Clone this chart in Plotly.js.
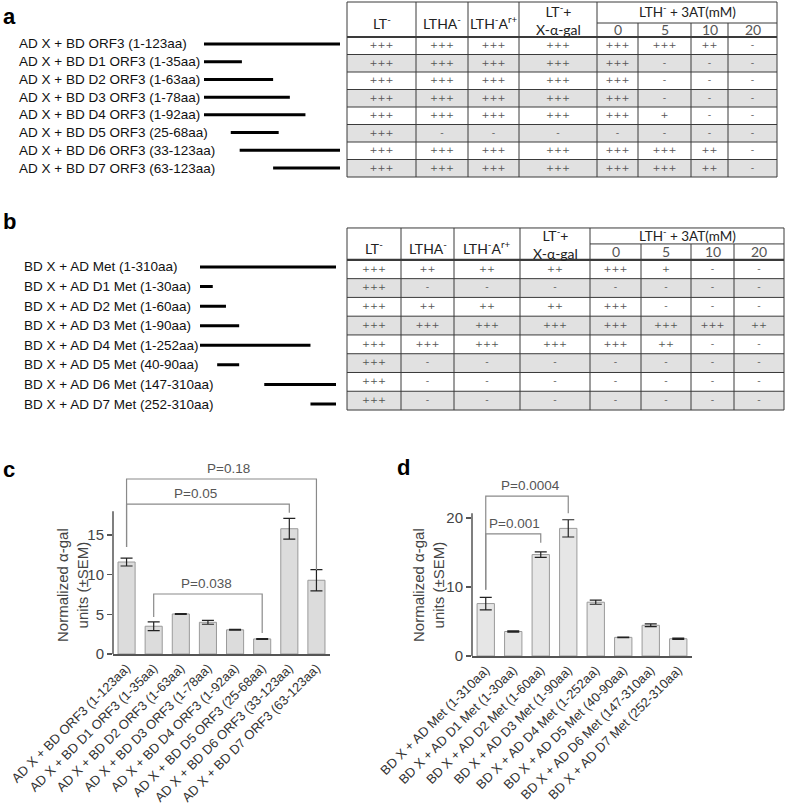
<!DOCTYPE html>
<html>
<head>
<meta charset="utf-8">
<script src="https://cdn.plot.ly/plotly-3.0.1.min.js"></script>
<style>
  html, body { margin: 0; padding: 0; background: #fff; }
  #chart { width: 787px; height: 805px; }
</style>
</head>
<body>
<div id="chart"></div>
<script>
const W = 787;
const H = 805;
const FONT = "Liberation Sans, Arial, sans-serif";
const TFONT = "Lato, Open Sans, sans-serif";

// constructs (a)
const orf3Labels = [
  "AD X + BD ORF3 (1-123aa)",
  "AD X + BD D1 ORF3 (1-35aa)",
  "AD X + BD D2 ORF3 (1-63aa)",
  "AD X + BD D3 ORF3 (1-78aa)",
  "AD X + BD D4 ORF3 (1-92aa)",
  "AD X + BD D5 ORF3 (25-68aa)",
  "AD X + BD D6 ORF3 (33-123aa)",
  "AD X + BD D7 ORF3 (63-123aa)",
];
const orf3Start = [1, 1, 1, 1, 1, 25, 33, 63];
const orf3End = [123, 35, 63, 78, 92, 68, 123, 123];

// constructs (b)
const metLabels = [
  "BD X + AD Met (1-310aa)",
  "BD X + AD D1 Met (1-30aa)",
  "BD X + AD D2 Met (1-60aa)",
  "BD X + AD D3 Met (1-90aa)",
  "BD X + AD D4 Met (1-252aa)",
  "BD X + AD D5 Met (40-90aa)",
  "BD X + AD D6 Met (147-310aa)",
  "BD X + AD D7 Met (252-310aa)",
];
const metStart = [1, 1, 1, 1, 1, 40, 147, 252];
const metEnd = [310, 30, 60, 90, 252, 90, 310, 310];

// growth table
const mediaHeads = ["LT<sup>-</sup>", "LTHA<sup>-</sup>", "LTH<sup>-</sup>A<sup>r+</sup>", "LT<sup>-</sup>+<br>X-α-gal"];
const atHead = "LTH<sup>-</sup> + 3AT(mM)";
const atConc = ["0", "5", "10", "20"];

const orf3Scores = [
  ["+++", "+++", "+++", "+++", "+++", "+++", "++", "-"],
  ["+++", "+++", "+++", "+++", "+++", "-", "-", "-"],
  ["+++", "+++", "+++", "+++", "+++", "-", "-", "-"],
  ["+++", "+++", "+++", "+++", "+++", "-", "-", "-"],
  ["+++", "+++", "+++", "+++", "+++", "+", "-", "-"],
  ["+++", "-", "-", "-", "-", "-", "-", "-"],
  ["+++", "+++", "+++", "+++", "+++", "+++", "++", "-"],
  ["+++", "+++", "+++", "+++", "+++", "+++", "++", "-"],
];
const metScores = [
  ["+++", "++", "++", "++", "+++", "+", "-", "-"],
  ["+++", "-", "-", "-", "-", "-", "-", "-"],
  ["+++", "++", "++", "++", "+++", "-", "-", "-"],
  ["+++", "+++", "+++", "+++", "+++", "+++", "+++", "++"],
  ["+++", "+++", "+++", "+++", "+++", "++", "-", "-"],
  ["+++", "-", "-", "-", "-", "-", "-", "-"],
  ["+++", "-", "-", "-", "-", "-", "-", "-"],
  ["+++", "-", "-", "-", "-", "-", "-", "-"],
];

// alpha-gal assay
const orf3Activity = [11.6, 3.5, 5.05, 4.0, 3.05, 1.9, 15.8, 9.3];
const orf3Sem = [0.5, 0.55, 0.05, 0.25, 0.05, 0.05, 1.3, 1.35];
const metActivity = [7.6, 3.55, 14.7, 18.5, 7.8, 2.7, 4.45, 2.5];
const metSem = [0.9, 0.1, 0.4, 1.25, 0.3, 0.05, 0.2, 0.1];

const orf3Tests = [
  { from: 0, to: 7, p: "P=0.18", top: 22.07, legFrom: 13.5, legTo: 10.6, textAt: 3.75 },
  { from: 0, to: 6, p: "P=0.05", top: 18.9, legFrom: 13.5, legTo: 17.8, textAt: 2.53 },
  { from: 1, to: 5, p: "P=0.038", top: 7.57, legFrom: 4.67, legTo: 2.65, textAt: 2.93 },
];
const metTests = [
  { from: 0, to: 3, p: "P=0.0004", top: 23.19, legFrom: 9.6, legTo: 20.7, textAt: 1.64 },
  { from: 0, to: 2, p: "P=0.001", top: 17.7, legFrom: 9.6, legTo: 16.4, textAt: 1.05 },
];

// table column edges (px from table left)
const edgesA = [0, 69, 121, 172, 250, 291, 344, 381, 430];
const edgesB = [0, 54, 107, 173, 243, 294, 344, 387, 437];

const px = (x) => x / W;
const py = (y) => 1 - y / H;

function segmentTrace(starts, ends, xa, ya) {
  const x = [];
  const y = [];
  starts.forEach((s, i) => {
    x.push(s, ends[i], null);
    y.push(i, i, null);
  });
  return { type: "scatter", mode: "lines", x, y, xaxis: xa, yaxis: ya, line: { color: "#000", width: 3 }, hoverinfo: "skip" };
}

function tableTraces(scores, edges, xa, ya) {
  const width = edges[edges.length - 1];
  const rows = scores.map((_, i) => i + 0.5);
  const shade = {
    type: "bar",
    orientation: "h",
    x: rows.map(() => width),
    base: 0,
    y: rows,
    width: 1,
    marker: { color: rows.map((_, i) => (i % 2 ? "#e1e1e1" : "#ffffff")), line: { width: 0 } },
    xaxis: xa,
    yaxis: ya,
    hoverinfo: "skip",
  };
  const tx = [];
  const ty = [];
  const tt = [];
  scores.forEach((row, i) =>
    row.forEach((v, j) => {
      tx.push((edges[j] + edges[j + 1]) / 2);
      ty.push(i + 0.5);
      tt.push(v);
    }),
  );
  const text = {
    type: "scatter",
    mode: "text",
    x: tx,
    y: ty,
    text: tt,
    textfont: { family: "DejaVu Sans, sans-serif", size: 9.5, color: "#555" },
    xaxis: xa,
    yaxis: ya,
    cliponaxis: false,
    hoverinfo: "skip",
  };
  return [shade, text];
}

function tableGrid(edges, nRows, headTop, subLine, xa, ya) {
  const w = edges[edges.length - 1];
  const line = (x0, y0, x1, y1, width) => ({
    type: "line", xref: xa, yref: ya, x0, y0, x1, y1,
    line: { color: "#3a3a3a", width: width || 1 },
  });
  const shapes = [];
  edges.forEach((e, j) => {
    const top = j > 4 && j < edges.length - 1 ? subLine : headTop;
    shapes.push(line(e, top, e, nRows));
  });
  shapes.push(line(0, headTop, w, headTop));
  shapes.push(line(edges[4], subLine, w, subLine));
  for (let i = 1; i <= nRows; i++) shapes.push(line(0, i, w, i));
  shapes.push(line(0, 0, w, 0, 2.2));
  return shapes;
}

function tableHeads(edges, headTop, subLine, xa, ya) {
  const anns = [];
  const base = {
    xref: xa, yref: ya, showarrow: false, xanchor: "center", yanchor: "middle",
    font: { family: TFONT, size: 14, color: "#222" },
  };
  mediaHeads.forEach((t, j) => {
    anns.push({ ...base, text: t, x: (edges[j] + edges[j + 1]) / 2, y: headTop / 2 + (j === 3 ? 0 : 0.2) });
  });
  anns.push({ ...base, text: atHead, x: (edges[4] + edges[8]) / 2, y: headTop + 0.42 * (subLine - headTop), font: { family: TFONT, size: 13.5, color: "#222" } });
  atConc.forEach((t, j) => {
    anns.push({ ...base, text: t, x: (edges[4 + j] + edges[5 + j]) / 2, y: subLine / 2, font: { family: TFONT, size: 14, color: "#555" } });
  });
  return anns;
}

function rowLabels(labels, xPos, ya) {
  return labels.map((t, i) => ({
    text: t, xref: "paper", yref: ya, x: px(xPos), y: i, xanchor: "left", yanchor: "middle",
    showarrow: false, font: { family: FONT, size: 13.5, color: "#111" },
  }));
}

function barTrace(values, sem, xa, ya, fill) {
  return {
    type: "bar",
    x: values.map((_, i) => i),
    y: values,
    width: 0.63,
    marker: { color: fill, line: { color: "#9a9a9a", width: 1 } },
    error_y: { type: "data", array: sem, visible: true, color: "#222", thickness: 1.2, width: 6 },
    xaxis: xa,
    yaxis: ya,
    hoverinfo: "skip",
  };
}

function brackets(tests, xa, ya) {
  const shapes = tests.map((t) => ({
    type: "path", xref: xa, yref: ya,
    path: `M ${t.from},${t.legFrom} L ${t.from},${t.top} L ${t.to},${t.top} L ${t.to},${t.legTo}`,
    line: { color: "#8a8a8a", width: 1.2 },
  }));
  const anns = tests.map((t) => ({
    text: t.p, xref: xa, yref: ya, x: t.textAt, y: t.top, xanchor: "center", yanchor: "bottom", yshift: 1,
    showarrow: false, font: { family: FONT, size: 13.5, color: "#555" },
  }));
  return { shapes, anns };
}

function panelLetter(t, x, y) {
  return {
    text: `<b>${t}</b>`, xref: "paper", yref: "paper", x: px(x), y: py(y),
    xanchor: "center", yanchor: "middle",
    showarrow: false, font: { family: FONT, size: 22, color: "#000" },
  };
}

const hidden = { visible: false, fixedrange: true };

const barX = (domain, labels) => ({
  domain,
  range: [-0.5, 7.5],
  tickvals: labels.map((_, i) => i),
  ticktext: labels,
  tickangle: -45,
  ticks: "",
  showline: true,
  linecolor: "#555",
  linewidth: 1.5,
  showgrid: false,
  zeroline: false,
  tickfont: { family: FONT, size: 13, color: "#333" },
});
const barY = (domain, range, tickvals) => ({
  domain,
  range,
  tickvals,
  ticks: "outside",
  ticklen: 5,
  tickwidth: 1.2,
  tickcolor: "#555",
  showline: false,
  showgrid: false,
  zeroline: false,
  tickfont: { family: FONT, size: 15, color: "#444" },
});

const data = [
  segmentTrace(orf3Start, orf3End, "x", "y"),
  ...tableTraces(orf3Scores, edgesA, "x2", "y2"),
  segmentTrace(metStart, metEnd, "x3", "y3"),
  ...tableTraces(metScores, edgesB, "x4", "y4"),
  barTrace(orf3Activity, orf3Sem, "x5", "y5", "#dcdcdc"),
  barTrace(metActivity, metSem, "x6", "y6", "#e6e6e6"),
];

const bc = brackets(orf3Tests, "x5", "y5");
const bd = brackets(metTests, "x6", "y6");

const yTitle = (x) => ({
  text: "Normalized α-gal<br>units (±SEM)", xref: "paper", yref: "paper", x: px(x), y: py(585),
  xanchor: "center", yanchor: "middle",
  textangle: -90, showarrow: false, font: { family: FONT, size: 15, color: "#444" },
});

const layout = {
  width: W,
  height: H,
  margin: { l: 0, r: 0, t: 0, b: 0 },
  paper_bgcolor: "#fff",
  plot_bgcolor: "rgba(0,0,0,0)",
  showlegend: false,
  barmode: "overlay",
  xaxis: { ...hidden, anchor: "y", domain: [px(200), px(344)], range: [-2.59, 126.59] },
  yaxis: { ...hidden, anchor: "x", domain: [py(176.9), py(35.1)], range: [7.5, -0.5] },
  xaxis2: { ...hidden, anchor: "y2", domain: [px(345), px(779)], range: [-2, 432] },
  yaxis2: { ...hidden, anchor: "x2", domain: [py(178.75), py(0.25)], range: [8.1, -2.1] },
  xaxis3: { ...hidden, anchor: "y3", domain: [px(196), px(340)], range: [-8.09, 319.09] },
  yaxis3: { ...hidden, anchor: "x3", domain: [py(413.8), py(257.2)], range: [7.5, -0.5] },
  xaxis4: { ...hidden, anchor: "y4", domain: [px(345), px(786)], range: [-2, 439] },
  yaxis4: { ...hidden, anchor: "x4", domain: [py(411.9), py(226.1)], range: [8.1, -1.8] },
  xaxis5: { ...barX([px(113), px(330)], orf3Labels), anchor: "y5" },
  yaxis5: { ...barY([py(654), py(474.8)], [0, 22.6], [0, 5, 10, 15]), anchor: "x5" },
  xaxis6: { ...barX([px(472), px(692)], metLabels), anchor: "y6" },
  yaxis6: { ...barY([py(656), py(493.2)], [0, 23.6], [0, 10, 20]), anchor: "x6" },
  shapes: [
    ...tableGrid(edgesA, 8, -2, -0.8, "x2", "y2"),
    ...tableGrid(edgesB, 8, -1.7, -0.85, "x4", "y4"),
    { type: "line", xref: "x5 domain", yref: "y5", x0: 0, x1: 0, y0: 0, y1: 18, line: { color: "#555", width: 1.5 } },
    { type: "line", xref: "x6 domain", yref: "y6", x0: 0, x1: 0, y0: 0, y1: 20.7, line: { color: "#555", width: 1.5 } },
    ...bc.shapes,
    ...bd.shapes,
  ],
  annotations: [
    panelLetter("a", 9, 17),
    panelLetter("b", 9, 221),
    panelLetter("c", 9, 469),
    panelLetter("d", 403, 467),
    ...rowLabels(orf3Labels, 17, "y"),
    ...rowLabels(metLabels, 22, "y3"),
    ...tableHeads(edgesA, -2, -0.8, "x2", "y2"),
    ...tableHeads(edgesB, -1.7, -0.85, "x4", "y4"),
    ...bc.anns,
    ...bd.anns,
    yTitle(72),
    yTitle(428),
  ],
};

Plotly.newPlot("chart", data, layout, { staticPlot: true, displayModeBar: false });
</script>
</body>
</html>
